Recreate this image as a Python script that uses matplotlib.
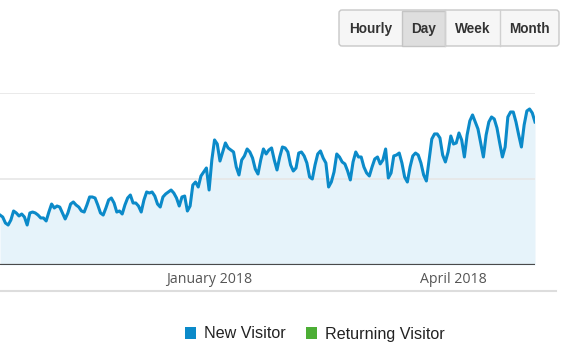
import matplotlib
matplotlib.use("Agg")
import matplotlib.pyplot as plt
import matplotlib.dates as mdates
from matplotlib.patches import FancyBboxPatch, Rectangle
import numpy as np
import pandas as pd

# ---- data ----
start_date = "2017-10-16"
new_visitor = [
    581, 558, 488, 465, 523, 628, 605, 570, 593, 558,
    465, 605, 616, 605, 581, 547, 547, 512, 616, 709,
    663, 686, 674, 605, 535, 605, 709, 733, 698, 674,
    628, 616, 698, 791, 791, 779, 698, 605, 581, 663,
    756, 779, 721, 616, 628, 593, 698, 779, 814, 721,
    721, 686, 616, 756, 849, 837, 849, 802, 709, 674,
    791, 826, 849, 872, 837, 779, 686, 791, 802, 628,
    686, 930, 965, 907, 1035, 1082, 1128, 872, 1221, 1454,
    1407, 1209, 1314, 1419, 1361, 1337, 1314, 1140, 1047, 1221,
    1268, 1349, 1314, 1244, 1116, 1058, 1221, 1349, 1291, 1337,
    1361, 1221, 1105, 1256, 1372, 1361, 1314, 1163, 1093,
    1128, 1302, 1314, 1268, 1186, 1023, 1000, 1163, 1291,
    1326, 1244, 1186, 907, 965, 1082, 1291, 1256, 1198, 1175,
    1093, 989, 1198, 1314, 1256, 1256, 1140, 1070, 1035, 1140,
    1233, 1256, 1175, 1221, 1349, 1012, 1070, 1268, 1279, 1302,
    1186, 1023, 965, 1140, 1268, 1302, 1279, 1186, 1047, 977,
    1221, 1465, 1524, 1524, 1477, 1279, 1198, 1314, 1500, 1407,
    1419, 1535, 1454, 1256, 1512, 1675, 1745, 1663, 1582, 1419,
    1256, 1512, 1663, 1721, 1698, 1593, 1419, 1256, 1372, 1721,
    1779, 1779, 1663, 1512, 1372, 1628, 1791, 1814, 1768, 1663,
]
grid_values = [1000, 2000]
tick_dates = ["2018-01-01", "2018-04-01"]
tick_labels = ["January 2018", "April 2018"]
buttons = ["Hourly", "Day", "Week", "Month"]
selected_button = "Day"
legend_labels = ["New Visitor", "Returning Visitor"]
legend_colors = ["#0b8ac9", "#4cae35"]

dates = pd.date_range(start_date, periods=len(new_visitor), freq="D")

W, H = 575, 359
fig = plt.figure(figsize=(W / 100, H / 100), dpi=100)
fig.patch.set_facecolor("white")

# ---- main chart ----
ax = fig.add_axes([0, (H - 265) / H, 535 / W, (265 - 93) / H])
ax.set_facecolor("white")
ax.fill_between(dates, 0, new_visitor, color="#e6f3fa", lw=0, zorder=1)
ax.plot(dates, new_visitor, color="#0b8ac9", lw=2.2, zorder=3,
        solid_joinstyle="round")
for g in grid_values:
    ax.axhline(g, color="#e6e6e6", lw=1.2, zorder=2)
ax.axhline(0, color="#4a4a4a", lw=1.6, zorder=4)
ax.set_xlim(dates[0], dates[-1])
ax.set_ylim(0, 2000)
for s in ax.spines.values():
    s.set_visible(False)
ax.set_yticks([])
ax.set_xticks([pd.Timestamp(d) for d in tick_dates])
ax.set_xticklabels(tick_labels, fontfamily="Open Sans", fontsize=10.2,
                   color="#555555")
ax.tick_params(axis="x", length=0, pad=5)

# ---- overlay in pixel coords for UI ----
ov = fig.add_axes([0, 0, 1, 1], zorder=-1)
ov.set_xlim(0, W)
ov.set_ylim(H, 0)
ov.axis("off")
ov.plot([0, 556], [291, 291], color="#dddddd", lw=1.5)

# buttons
edges = [339, 402, 445, 500, 559]
top, bot = 10, 46
ov2 = fig.add_axes([0, 0, 1, 1], zorder=5)
ov2.set_xlim(0, W)
ov2.set_ylim(H, 0)
ov2.axis("off")
ov2.add_patch(FancyBboxPatch((edges[0], top), edges[-1] - edges[0], bot - top,
                             boxstyle="round,pad=0,rounding_size=3",
                             fc="#f6f6f6", ec="#c8c8c8", lw=1.0))
for i, b in enumerate(buttons):
    x0, x1 = edges[i], edges[i + 1]
    if b == selected_button:
        ov2.add_patch(Rectangle((x0, top + 0.5), x1 - x0, bot - top - 1,
                                fc="#dedede", ec="#c4c4c4", lw=1.0))
    elif i > 0:
        ov2.plot([x0, x0], [top, bot], color="#d0d0d0", lw=1.0)
    ov2.text((x0 + x1) / 2, (top + bot) / 2 + 1, b, ha="center", va="center",
             fontfamily="Liberation Sans", fontweight="bold", fontsize=9.8,
             color="#333333")

# legend
lx = [185, 306]
for i, lab in enumerate(legend_labels):
    ov2.add_patch(Rectangle((lx[i], 327), 11, 12, fc=legend_colors[i], ec="none"))
    ov2.text(lx[i] + 19, 334, lab, ha="left", va="center",
             fontfamily="Liberation Sans", fontsize=11.6, color="#222222")

fig.savefig("out.png", dpi=100, facecolor="white")
